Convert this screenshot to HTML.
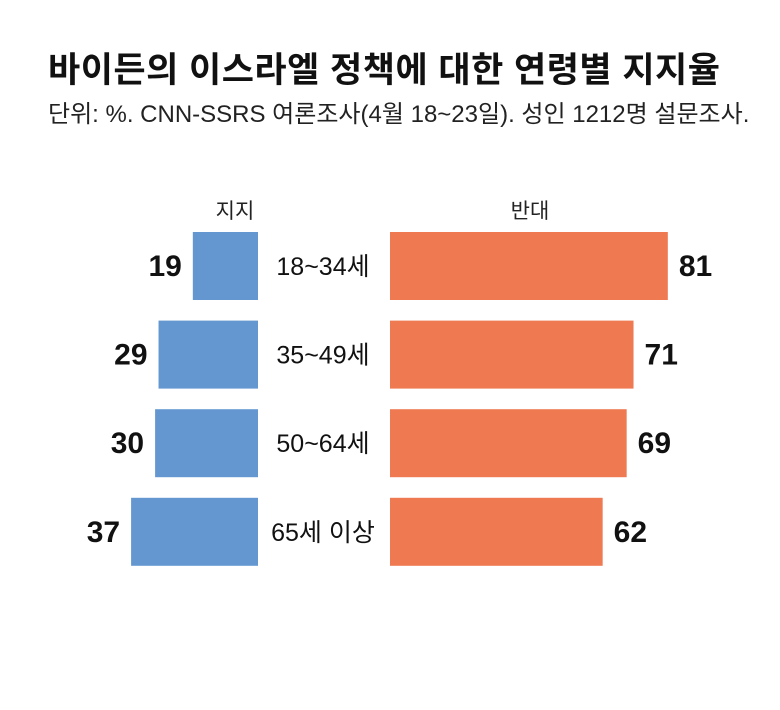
<!DOCTYPE html>
<html><head><meta charset="utf-8">
<style>
body{margin:0;background:#fff;font-family:"Liberation Sans","Noto Sans CJK KR",sans-serif;}
#wrap{position:relative;width:780px;height:710px;overflow:hidden;background:#fff;}
.t{position:absolute;white-space:nowrap;color:#111;}
</style></head>
<body>
<div id="wrap">
<div class="t" style="left:48px;top:42px;font-size:35px;font-weight:bold;letter-spacing:0.5px;">바이든의 이스라엘 정책에 대한 연령별 지지율</div>
<div class="t" style="left:48px;top:94px;font-size:24px;color:#222;">단위: %. CNN-SSRS 여론조사(4월 18~23일). 성인 1212명 설문조사.</div>
<svg id="svg" width="780" height="710" style="position:absolute;left:0;top:0"></svg>
</div>
<script>
const categories=["18~34세","35~49세","50~64세","65세 이상"];
const support=[19,29,30,37];
const oppose=[81,71,69,62];
const seriesNames=["지지","반대"];
const NS="http://www.w3.org/2000/svg";
const svg=document.getElementById('svg');
const scale=3.43, leftBase=258, rightBase=390, top0=232, pitch=88.6, bh=68;
function x(v){return v*scale;}
function y(i){return top0+i*pitch;}
function mk(tag,attrs,txt){const e=document.createElementNS(NS,tag);for(const k in attrs)e.setAttribute(k,attrs[k]);if(txt!==undefined)e.textContent=txt;svg.appendChild(e);return e;}
const FF='"Liberation Sans","Noto Sans CJK KR",sans-serif';
let h=mk('text',{x:235,y:218,'text-anchor':'middle','font-size':21,'font-family':FF,fill:'#222'},seriesNames[0]);


h=mk('text',{x:530,y:218,'text-anchor':'middle','font-size':21,'font-family':FF,fill:'#222'},seriesNames[1]);


categories.forEach((c,i)=>{
  const yy=y(i), cy=yy+bh/2+10;
  let r=mk('rect',{x:leftBase-x(support[i]),y:yy,width:x(support[i]),height:bh,fill:'#6497d0'});
  
  
  let t=mk('text',{x:leftBase-x(support[i])-11,y:cy,'text-anchor':'end','font-size':30,'font-weight':'bold','font-family':FF,fill:'#111'},support[i]);
  
  
  r=mk('rect',{x:rightBase,y:yy,width:x(oppose[i]),height:bh,fill:'#ef7a52'});
  
  
  t=mk('text',{x:rightBase+x(oppose[i])+11,y:cy,'text-anchor':'start','font-size':30,'font-weight':'bold','font-family':FF,fill:'#111'},oppose[i]);
  
  
  t=mk('text',{x:323,y:cy-1,'text-anchor':'middle','font-size':25,'font-family':FF,fill:'#111'},c);
  
  
});
</script>
</body></html>
